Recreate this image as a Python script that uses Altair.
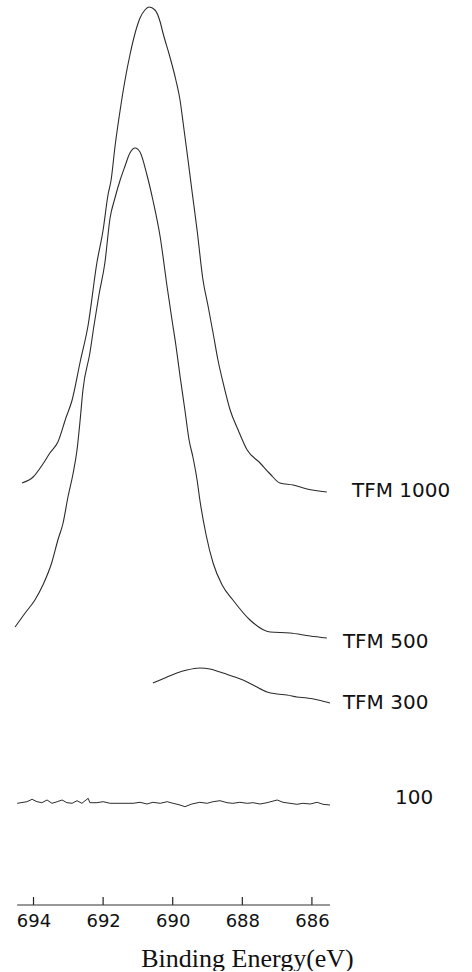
import altair as alt
import pandas as pd

# ---- data (Binding energy in eV, intensity in arbitrary units) ----
e_1000 = [694.33, 694.01, 693.73, 693.53, 693.30, 693.07, 692.89, 692.66, 692.43, 692.18,
          692.00, 691.86, 691.77, 691.66, 691.51, 691.37, 691.23, 691.08, 690.94, 690.80,
          690.68, 690.51, 690.36, 690.28, 690.08, 689.91, 689.79, 689.70, 689.56, 689.45,
          689.30, 689.13, 688.99, 688.84, 688.70, 688.55, 688.35, 688.12, 687.86, 687.49,
          687.20, 686.92, 686.54, 686.14, 685.57]
i_1000 = [422, 428, 441, 452, 463, 487, 505, 543, 580, 642,
          675, 710, 725, 758, 795, 825, 850, 872, 887, 895,
          898, 895, 883, 872, 848, 825, 805, 782, 745, 715,
          675, 625, 600, 572, 545, 522, 495, 475, 455, 442,
          431, 422, 420, 416, 413]

e_500 = [694.53, 694.24, 693.96, 693.73, 693.47, 693.30, 693.15, 693.01, 692.86, 692.75,
         692.66, 692.58, 692.38, 692.26, 692.12, 691.95, 691.80, 691.66, 691.51, 691.37,
         691.23, 691.08, 690.94, 690.74, 690.57, 690.36, 690.16, 690.02, 689.91, 689.79,
         689.65, 689.53, 689.42, 689.30, 689.22, 689.04, 688.84, 688.58, 688.27, 687.78,
         687.20, 686.63, 686.05, 685.57]
i_500 = [278, 292, 305, 320, 343, 365, 382, 408, 432, 455,
         485, 515, 552, 580, 610, 642, 687, 707, 725, 739,
         752, 757, 753, 730, 705, 668, 618, 585, 560, 529,
         495, 465, 448, 425, 405, 370, 342, 320, 305, 285,
         273, 272, 269, 267]

e_300 = [690.57, 690.36, 690.16, 689.88, 689.59, 689.22, 688.93, 688.64, 688.30, 687.98,
         687.64, 687.29, 687.00, 686.72, 686.43, 686.14, 685.82, 685.48]
i_300 = [222, 225, 228, 232, 235, 237, 236, 233, 229, 225,
         219, 213, 211, 210, 208, 207, 205, 202]

e_100 = [694.47, 694.19, 694.04, 693.90, 693.76, 693.61, 693.47, 693.32, 693.18, 693.04,
         692.89, 692.75, 692.61, 692.43, 692.38, 692.18, 692.00, 691.80, 691.57, 691.14,
         690.94, 690.74, 690.57, 690.36, 690.16, 689.99, 689.79, 689.65, 689.45, 689.22,
         689.01, 688.84, 688.64, 688.44, 688.27, 688.07, 687.86, 687.69, 687.49, 687.29,
         687.00, 686.83, 686.63, 686.43, 686.26, 686.05, 685.85, 685.68, 685.48]
i_100 = [101.7, 103.3, 105.7, 103.3, 102.3, 105.0, 101.7, 103.3, 105.0, 102.3,
         101.7, 104.3, 101.7, 106.7, 102.3, 102.3, 103.3, 101.7, 101.7, 101.7,
         102.7, 101.0, 102.7, 101.7, 103.3, 101.7, 100.0, 98.3, 101.0, 102.7,
         101.7, 103.3, 104.3, 102.3, 101.7, 102.7, 101.7, 102.3, 101.0, 102.3,
         105.0, 102.7, 101.7, 100.7, 101.7, 101.0, 102.7, 100.7, 100.0]

series_labels = ["TFM 1000", "TFM 500", "TFM 300", "100"]
label_energy = [684.85, 685.11, 685.11, 683.61]
label_intensity = [414, 263, 202, 107]

tick_values = [694, 692, 690, 688, 686]
axis_ends = [694.47, 685.48]

# ---- tables ----
peaks = pd.concat([
    pd.DataFrame({"E": e_1000, "I": i_1000, "series": "TFM 1000"}),
    pd.DataFrame({"E": e_500, "I": i_500, "series": "TFM 500"}),
    pd.DataFrame({"E": e_300, "I": i_300, "series": "TFM 300"}),
], ignore_index=True)
noise = pd.DataFrame({"E": e_100, "I": i_100})
labels = pd.DataFrame({"E": label_energy, "I": label_intensity, "label": series_labels})
ticks = pd.DataFrame({"E": tick_values, "I": [0] * len(tick_values), "I2": [8] * len(tick_values)})
axis_line = pd.DataFrame({"E": axis_ends, "I": [0, 0]})

xscale = alt.Scale(domain=[694.963, 681.40], nice=False, zero=False)
yscale = alt.Scale(domain=[0, 905], nice=False, zero=False)

xaxis = alt.Axis(values=tick_values, format="d", domain=False, ticks=False,
                 grid=False, labelFlush=False,
                 labelFont="DejaVu Sans", labelFontSize=18, labelColor="#111",
                 labelPadding=7,
                 titleFont="Liberation Serif", titleFontSize=26,
                 titleFontWeight="normal", titleColor="#111",
                 titleX=247, titleY=61, titleBaseline="alphabetic",
                 titleAlign="center")

X = alt.X("E:Q", scale=xscale, axis=xaxis, title="Binding Energy(eV)")
Y = alt.Y("I:Q", scale=yscale, axis=None)

line_color = "#2b2b2b"

peak_lines = alt.Chart(peaks).mark_line(
    color=line_color, strokeWidth=1.1, interpolate="monotone"
).encode(x=X, y=Y, detail="series:N")

noise_line = alt.Chart(noise).mark_line(
    color=line_color, strokeWidth=1.0, interpolate="linear"
).encode(x=X, y=Y)

label_text = alt.Chart(labels).mark_text(
    align="left", baseline="middle", font="DejaVu Sans", fontSize=20, color="#111"
).encode(x=X, y=Y, text="label:N")

tick_marks = alt.Chart(ticks).mark_rule(color="#222", strokeWidth=1.2).encode(
    x=X, y=Y, y2="I2:Q"
)

axis_rule = alt.Chart(axis_line).mark_line(color="#333", strokeWidth=1.2).encode(
    x=X, y=Y
)

chart = alt.layer(peak_lines, noise_line, label_text, tick_marks, axis_rule).properties(
    width=472, height=905, padding=0, background="white"
).configure_view(stroke=None)

chart.save("out.html", embed_options={"renderer": "svg", "actions": False})
